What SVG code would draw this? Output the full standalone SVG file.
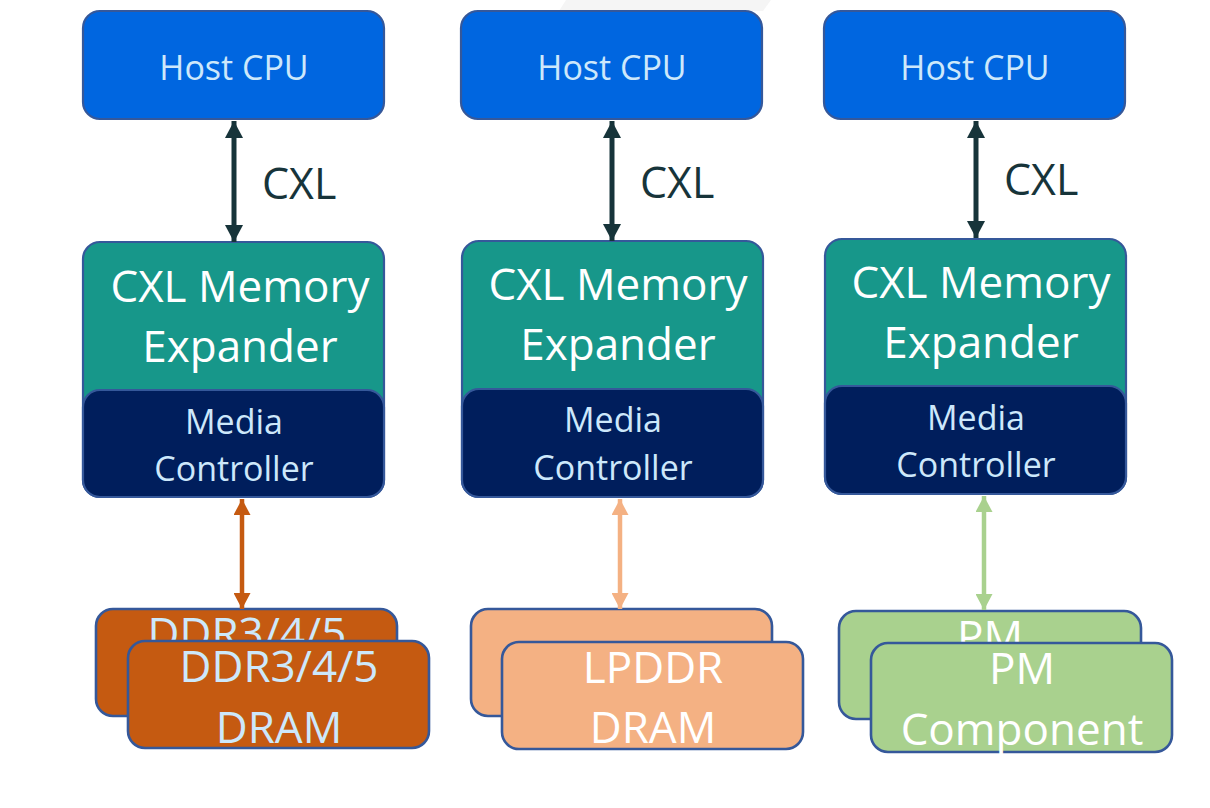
<svg xmlns="http://www.w3.org/2000/svg" width="1210" height="808" viewBox="0 0 1210 808">
<style>
  text { font-family: "Open Sans", "Noto Sans", "DejaVu Sans", sans-serif; text-anchor: middle; }
  .box { stroke: #35589a; stroke-width: 2.2; }
  .mem { stroke-width: 2.6; }
  .host { fill: #0066e0; }
  .exp { fill: #17978a; }
  .mc { fill: #001e5c; }
  .ddr { fill: #c55a11; }
  .lp { fill: #f4b183; }
  .pm { fill: #a9d18e; }
  .t-host { font-size: 34px; fill: #cde8fb; }
  .t-exp { font-size: 44px; fill: #ffffff; }
  .t-mc { font-size: 34px; fill: #cde8fb; }
  .t-big-blue { font-size: 44px; fill: #cde8fb; }
  .t-big-white { font-size: 44px; fill: #ffffff; }
  .t-cxl { font-size: 43px; fill: #17343a; text-anchor: start; }
  .c-dark { stroke: #17343a; stroke-width: 5; fill: none; }
  .c-ddr { stroke: #c55a11; stroke-width: 4.5; fill: none; }
  .c-lp { stroke: #f4b183; stroke-width: 4.5; fill: none; }
  .c-pm { stroke: #a9d18e; stroke-width: 4.5; fill: none; }
</style>
<defs>
  <marker id="m-dark" viewBox="0 0 17 18" refX="17" refY="9" markerWidth="17" markerHeight="18" markerUnits="userSpaceOnUse" orient="auto-start-reverse"><path d="M0,0 L17,9 L0,18 Z" fill="#17343a"/></marker>
  <marker id="m-ddr" viewBox="0 0 16 17" refX="16" refY="8.5" markerWidth="16" markerHeight="17" markerUnits="userSpaceOnUse" orient="auto-start-reverse"><path d="M0,0 L16,8.5 L0,17 Z" fill="#c55a11"/></marker>
  <marker id="m-lp" viewBox="0 0 16 17" refX="16" refY="8.5" markerWidth="16" markerHeight="17" markerUnits="userSpaceOnUse" orient="auto-start-reverse"><path d="M0,0 L16,8.5 L0,17 Z" fill="#f4b183"/></marker>
  <marker id="m-pm" viewBox="0 0 16 17" refX="16" refY="8.5" markerWidth="16" markerHeight="17" markerUnits="userSpaceOnUse" orient="auto-start-reverse"><path d="M0,0 L16,8.5 L0,17 Z" fill="#a9d18e"/></marker>
</defs>
<rect x="0" y="0" width="1210" height="808" fill="#ffffff"/>
<polygon points="566,0 771,0 763,11 559,11" fill="#f5f5f5"/>

<!-- Column 1 -->
<g id="host1"><rect class="box host" x="83" y="11" width="301" height="108" rx="17"/><text class="t-host" x="234" y="80">Host CPU</text></g>
<g id="exp1"><rect class="box exp" x="83" y="242" width="301" height="255" rx="17"/><text class="t-exp" x="240" y="302">CXL Memory</text><text class="t-exp" x="240" y="362">Expander</text></g>
<g id="mc1"><rect class="box mc" x="83" y="390" width="301" height="107" rx="17"/><text class="t-mc" x="234" y="434">Media</text><text class="t-mc" x="234" y="481">Controller</text></g>
<g id="ddr-back"><rect class="box mem ddr" x="96" y="609" width="301" height="107" rx="17"/><text class="t-big-blue" x="247" y="649">DDR3/4/5</text></g>
<g id="ddr-front"><rect class="box mem ddr" x="128" y="641" width="301" height="107" rx="17"/><text class="t-big-blue" x="279" y="682">DDR3/4/5</text><text class="t-big-blue" x="279" y="743">DRAM</text></g>

<!-- Column 2 -->
<g id="host2"><rect class="box host" x="461" y="11" width="301" height="108" rx="17"/><text class="t-host" x="612" y="80">Host CPU</text></g>
<g id="exp2"><rect class="box exp" x="462" y="241" width="301" height="256" rx="17"/><text class="t-exp" x="618" y="300">CXL Memory</text><text class="t-exp" x="618" y="360">Expander</text></g>
<g id="mc2"><rect class="box mc" x="462" y="389" width="301" height="108" rx="17"/><text class="t-mc" x="613" y="432">Media</text><text class="t-mc" x="613" y="480">Controller</text></g>
<g id="lp-back"><rect class="box mem lp" x="471" y="609" width="301" height="107" rx="17"/></g>
<g id="lp-front"><rect class="box mem lp" x="502" y="642" width="301" height="107" rx="17"/><text class="t-big-white" x="653" y="683">LPDDR</text><text class="t-big-white" x="653" y="743">DRAM</text></g>

<!-- Column 3 -->
<g id="host3"><rect class="box host" x="824" y="11" width="301" height="108" rx="17"/><text class="t-host" x="975" y="80">Host CPU</text></g>
<g id="exp3"><rect class="box exp" x="825" y="239" width="301" height="255" rx="17"/><text class="t-exp" x="981" y="298">CXL Memory</text><text class="t-exp" x="981" y="358">Expander</text></g>
<g id="mc3"><rect class="box mc" x="825" y="386" width="301" height="108" rx="17"/><text class="t-mc" x="976" y="430">Media</text><text class="t-mc" x="976" y="477">Controller</text></g>
<g id="pm-back"><rect class="box mem pm" x="839" y="611" width="302" height="108" rx="17"/><text class="t-big-white" x="990" y="652">PM</text></g>
<g id="pm-front"><rect class="box mem pm" x="871" y="643" width="301" height="109" rx="17"/><text class="t-big-white" x="1022" y="684">PM</text><text class="t-big-white" x="1022" y="745">Component</text></g>

<!-- Connectors -->
<g id="connectors">
  <line class="c-dark" x1="234" y1="121" x2="234" y2="242" marker-start="url(#m-dark)" marker-end="url(#m-dark)"/>
  <text class="t-cxl" x="262" y="199">CXL</text>
  <line class="c-dark" x1="612" y1="121" x2="612" y2="241" marker-start="url(#m-dark)" marker-end="url(#m-dark)"/>
  <text class="t-cxl" x="640" y="198">CXL</text>
  <line class="c-dark" x1="976" y1="121" x2="976" y2="238" marker-start="url(#m-dark)" marker-end="url(#m-dark)"/>
  <text class="t-cxl" x="1004" y="195">CXL</text>
  <line class="c-ddr" x1="242" y1="499" x2="242" y2="609" marker-start="url(#m-ddr)" marker-end="url(#m-ddr)"/>
  <line class="c-lp" x1="620" y1="499" x2="620" y2="609" marker-start="url(#m-lp)" marker-end="url(#m-lp)"/>
  <line class="c-pm" x1="984" y1="496" x2="984" y2="610" marker-start="url(#m-pm)" marker-end="url(#m-pm)"/>
</g>
</svg>
